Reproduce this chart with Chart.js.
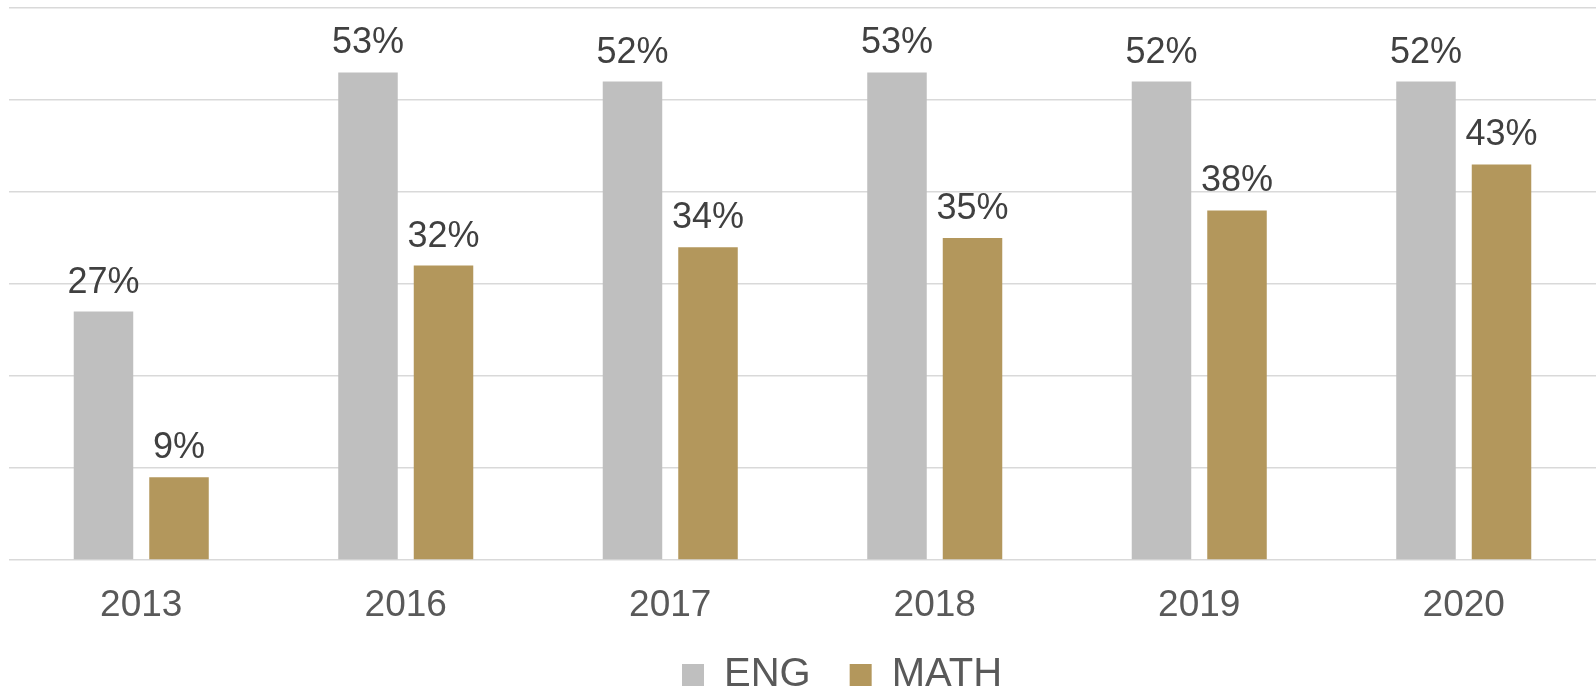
<!DOCTYPE html>
<html>
<head>
<meta charset="utf-8">
<script src="https://cdn.jsdelivr.net/npm/chart.js@4/dist/chart.umd.min.js"></script>
<style>
  html, body { margin: 0; padding: 0; background: #ffffff; overflow: hidden; width: 1596px; height: 690px; }
  #wrap { position: relative; width: 1596px; height: 705px; }
</style>
</head>
<body>
<div id="wrap"><canvas id="c"></canvas></div>
<script>
const categories = ['2013', '2016', '2017', '2018', '2019', '2020'];
const engValues = [27, 53, 52, 53, 52, 52];
const mathValues = [9, 32, 34, 35, 38, 43];
const seriesNames = ['ENG', 'MATH'];
const seriesColors = ['#bfbfbf', '#b3975c'];

const FONT = "'Liberation Sans', Arial, sans-serif";

const valueLabels = {
  id: 'valueLabels',
  afterDatasetsDraw(chart) {
    const ctx = chart.ctx;
    ctx.save();
    ctx.font = '36px ' + FONT;
    ctx.fillStyle = '#404040';
    ctx.textAlign = 'center';
    ctx.textBaseline = 'alphabetic';
    chart.data.datasets.forEach((ds, i) => {
      const meta = chart.getDatasetMeta(i);
      meta.data.forEach((el, j) => {
        ctx.fillText(ds.data[j] + '%', el.x, el.y - 19);
      });
    });
    ctx.restore();
  }
};

const legendShift = {
  id: 'legendShift',
  afterLayout(chart) {
    if (chart.legend) { chart.legend.left += 79; }
  }
};

new Chart(document.getElementById('c'), {
  type: 'bar',
  data: {
    labels: categories,
    datasets: [
      { label: seriesNames[0], data: engValues, backgroundColor: seriesColors[0] },
      { label: seriesNames[1], data: mathValues, backgroundColor: seriesColors[1] }
    ]
  },
  options: {
    responsive: true,
    maintainAspectRatio: false,
    animation: false,
    layout: { padding: { top: 8, left: 9, right: 0, bottom: 0 } },
    datasets: {
      bar: { categoryPercentage: 0.571, barPercentage: 0.788 }
    },
    scales: {
      x: {
        grid: { display: false, drawTicks: false },
        border: { display: false },
        ticks: { color: '#595959', font: { family: FONT, size: 37 }, padding: 24 },
        afterFit(scale) { scale.height = 56; }
      },
      y: {
        min: 0, max: 60,
        ticks: { display: false, stepSize: 10 },
        grid: { color: '#d9d9d9', lineWidth: 1.5, drawTicks: false },
        border: { display: false }
      }
    },
    plugins: {
      legend: {
        position: 'bottom',
        labels: {
          boxWidth: 22, boxHeight: 22, padding: 39,
          color: '#595959',
          font: { family: FONT, size: 40 }
        }
      },
      tooltip: { enabled: false }
    }
  },
  plugins: [valueLabels, legendShift]
});
</script>
</body>
</html>
